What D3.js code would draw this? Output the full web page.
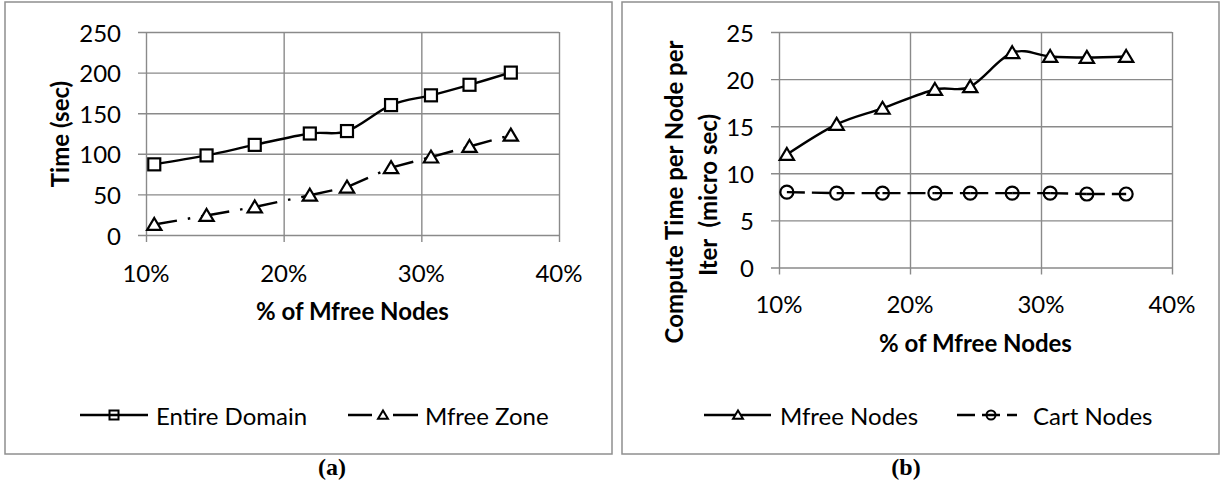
<!DOCTYPE html>
<html>
<head>
<meta charset="utf-8">
<script src="https://cdn.jsdelivr.net/npm/d3@7"></script>
<style>
  html, body { margin: 0; padding: 0; background: #fff; }
  svg { display: block; }
  text { font-family: Lato, "Open Sans", sans-serif; fill: #000; }
</style>
</head>
<body>
<svg id="fig" width="1223" height="490"></svg>
<script>
// ---- data ----
const mfreePct = [0.106, 0.144, 0.179, 0.219, 0.246, 0.278, 0.307, 0.335, 0.365];
const entireDomain = [87, 98, 111, 125, 128, 160, 172, 185, 200];
const mfreeZone = [13, 24, 34.5, 49, 59, 83, 96, 109, 123];
const mfreeNodes = [12.0, 15.2, 16.9, 18.9, 19.2, 22.8, 22.4, 22.3, 22.4];
const cartNodes = [8.0, 7.9, 7.9, 7.9, 7.9, 7.9, 7.9, 7.8, 7.8];
const xTicks = [0.10, 0.20, 0.30, 0.40];
const timeTicks = [0, 50, 100, 150, 200, 250];
const computeTicks = [0, 5, 10, 15, 20, 25];

const svg = d3.select("#fig");
const GRID = "#8a8a8a";
const FS = 24;
const pctFmt = d3.format(".0%");

// Excel-style markers
const markers = {
  square: (g, s) => g.append("rect").attr("x", -s / 2).attr("y", -s / 2).attr("width", s).attr("height", s),
  triangle: (g, s) => g.append("path").attr("d", `M0,${-s * 0.5}L${s * 0.55},${s * 0.42}L${-s * 0.55},${s * 0.42}Z`),
  circle: (g, s) => g.append("circle").attr("r", s / 2)
};

function drawPanel(cfg) {
  const g = svg.append("g");
  // outer frame
  g.append("rect")
    .attr("x", cfg.frame[0]).attr("y", cfg.frame[1])
    .attr("width", cfg.frame[2] - cfg.frame[0]).attr("height", cfg.frame[3] - cfg.frame[1])
    .attr("fill", "#fff").attr("stroke", "#8f8f8f").attr("stroke-width", 1.5);

  const x = d3.scaleLinear().domain([0.10, 0.40]).range([cfg.plot.left, cfg.plot.right]);
  const y = d3.scaleLinear().domain(cfg.yDomain).range([cfg.plot.bottom, cfg.plot.top]);
  const w = cfg.plot.right - cfg.plot.left;

  // horizontal gridlines, extended left as outside tick marks
  g.append("g").attr("transform", `translate(${cfg.plot.right},0)`)
    .call(d3.axisLeft(y).tickValues(cfg.yTicks).tickSize(w + 8).tickFormat(""))
    .call(a => a.select(".domain").remove())
    .call(a => a.selectAll("line").attr("stroke", GRID).attr("stroke-width", 1.4));

  // vertical gridlines, extended below as outside tick marks
  g.append("g").attr("transform", `translate(0,${cfg.plot.bottom})`)
    .call(d3.axisBottom(x).tickValues(xTicks).tickSize(0).tickFormat(""))
    .call(a => a.select(".domain").remove())
    .call(a => a.selectAll(".tick line")
      .attr("y1", 7).attr("y2", -(cfg.plot.bottom - cfg.plot.top))
      .attr("stroke", GRID).attr("stroke-width", 1.4));

  // tick labels
  g.append("g").selectAll("text").data(cfg.yTicks).join("text")
    .attr("x", cfg.plot.left - 25).attr("y", d => y(d))
    .attr("text-anchor", "end").attr("dominant-baseline", "central")
    .attr("font-size", FS).text(d => d);
  g.append("g").selectAll("text").data(xTicks).join("text")
    .attr("x", d => x(d)).attr("y", cfg.plot.bottom + cfg.xLabelOffset)
    .attr("text-anchor", "middle").attr("dominant-baseline", "central")
    .attr("font-size", FS).text(d => pctFmt(d));

  // axis titles
  g.append("text")
    .attr("x", (cfg.plot.left + cfg.plot.right) / 2).attr("y", cfg.plot.bottom + cfg.xTitleOffset)
    .attr("text-anchor", "middle").attr("dominant-baseline", "central")
    .attr("font-size", FS).attr("font-weight", "bold").text("% of Mfree Nodes");
  cfg.yTitle.forEach(t => {
    g.append("text")
      .attr("transform", `translate(${t.x},${t.y}) rotate(-90)`)
      .attr("text-anchor", "middle").attr("dominant-baseline", "central")
      .attr("font-size", FS).attr("font-weight", "bold")
      .style("white-space", "pre").text(t.text);
  });

  // series
  cfg.series.forEach(s => {
    const pts = mfreePct.map((p, i) => [x(p), y(s.values[i])]);
    const sg = g.append("g");
    if (s.smooth) {
      sg.append("path")
        .attr("d", d3.line().curve(d3.curveCatmullRom.alpha(0))(pts))
        .attr("fill", "none").attr("stroke", "#000").attr("stroke-width", 2.4)
        .attr("stroke-dasharray", s.dash || null);
    } else {
      // dash pattern restarts at each point
      d3.pairs(pts).forEach(([a, b]) => {
        sg.append("path").attr("d", d3.line()([a, b]))
          .attr("fill", "none").attr("stroke", "#000").attr("stroke-width", 2.4)
          .attr("stroke-dasharray", s.dash || null);
      });
    }
    pts.forEach(p => {
      const m = sg.append("g").attr("transform", `translate(${p[0]},${p[1]})`);
      markers[s.marker](m, s.size)
        .attr("fill", s.fill).attr("stroke", "#000").attr("stroke-width", 2.2);
    });
  });

  // legend
  cfg.legend.forEach(l => {
    const lg = g.append("g");
    lg.append("line").attr("x1", l.x1).attr("x2", l.x2).attr("y1", l.y).attr("y2", l.y)
      .attr("stroke", "#000").attr("stroke-width", 2.4).attr("stroke-dasharray", l.dash || null);
    const m = lg.append("g").attr("transform", `translate(${l.mx},${l.y})`);
    markers[l.marker](m, l.size).attr("fill", l.fill).attr("stroke", "#000").attr("stroke-width", 2);
    lg.append("text").attr("x", l.tx).attr("y", l.y)
      .attr("dominant-baseline", "central").attr("font-size", FS)
      .style("white-space", "pre").text(l.label);
  });
}

drawPanel({
  frame: [5, 2, 612, 454],
  plot: { left: 146, right: 559, top: 32, bottom: 235 },
  yDomain: [0, 250],
  yTicks: timeTicks,
  xLabelOffset: 37,
  xTitleOffset: 75,
  yTitle: [{ x: 59, y: 134, text: "Time (sec)" }],
  series: [
    { values: entireDomain, marker: "square", size: 12, fill: "#fff", smooth: true },
    { values: mfreeZone, marker: "triangle", size: 13, fill: "#fff", smooth: false, dash: "23,11,2.5,11" }
  ],
  legend: [
    { x1: 80, x2: 148, mx: 114, y: 415, marker: "square", size: 9, fill: "none", tx: 156, label: "Entire Domain" },
    { x1: 348, x2: 418, mx: 383, y: 415, marker: "triangle", size: 9, fill: "#fff", tx: 425, label: "Mfree Zone", dash: "24,21,25" }
  ]
});

drawPanel({
  frame: [622, 2, 1219, 454],
  plot: { left: 779, right: 1172, top: 32, bottom: 267.5 },
  yDomain: [0, 25],
  yTicks: computeTicks,
  xLabelOffset: 36,
  xTitleOffset: 75,
  yTitle: [
    { x: 673, y: 192, text: "Compute Time per Node per" },
    { x: 707, y: 195, text: "Iter  (micro sec)" }
  ],
  series: [
    { values: mfreeNodes, marker: "triangle", size: 13, fill: "#fff", smooth: true },
    { values: cartNodes, marker: "circle", size: 13, fill: "none", smooth: false, dash: "18,7" }
  ],
  legend: [
    { x1: 704, x2: 771, mx: 738, y: 415, marker: "triangle", size: 9, fill: "#fff", tx: 780, label: "Mfree Nodes" },
    { x1: 957, x2: 1017, mx: 991, y: 415, marker: "circle", size: 9, fill: "none", tx: 1033, label: "Cart Nodes", dash: "18,7" }
  ]
});

// panel captions
svg.append("g").selectAll("text").data([{ x: 332, t: "(a)" }, { x: 906, t: "(b)" }]).join("text")
  .attr("x", d => d.x).attr("y", 467)
  .attr("text-anchor", "middle").attr("dominant-baseline", "central")
  .style("font-family", "'Liberation Serif', 'Times New Roman', serif")
  .style("font-size", "24px").style("font-weight", "bold").text(d => d.t);
</script>
</body>
</html>
